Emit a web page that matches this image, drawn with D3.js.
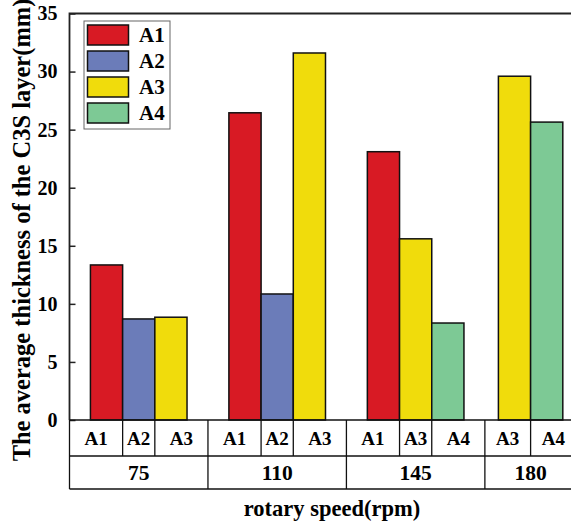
<!DOCTYPE html>
<html>
<head>
<meta charset="utf-8">
<script src="https://cdn.jsdelivr.net/npm/d3@7"></script>
<style>
  html, body { margin: 0; padding: 0; background: #fff; overflow: hidden; }
  text { font-family: "Liberation Serif", "Times New Roman", serif; font-weight: bold; fill: #000; }
</style>
</head>
<body>
<div id="vis"></div>
<script>
// 数据
const speeds = ["75", "110", "145", "180"];
const seriesNames = ["A1", "A2", "A3", "A4"];
const groupSeries = [
  ["A1", "A2", "A3"],
  ["A1", "A2", "A3"],
  ["A1", "A3", "A4"],
  ["A3", "A4"]
];
const groupValues = [
  [13.35, 8.7, 8.85],
  [26.45, 10.85, 31.6],
  [23.1, 15.6, 8.35],
  [29.6, 25.65]
];
const yTicks = [0, 5, 10, 15, 20, 25, 30, 35];
const colors = { A1: "#d81a24", A2: "#6b7cb9", A3: "#f0dc0c", A4: "#7dc995" };

// 布局
const W = 571, H = 522;
const plotLeft = 69.5, plotTop = 13.5, plotBottom = 420;
const row1 = 456, row2 = 489;
const slot = 32.2;
const pads = [[0.65, 0.65], [0.65, 0.65], [0.65, 0.65], [0.42, 0.42]];

// 计算每组在“槽位”坐标中的起止位置
let pos = 0;
const groups = speeds.map((s, i) => {
  const start = pos;
  const barStart = start + pads[i][0];
  const n = groupSeries[i].length;
  const end = barStart + n + pads[i][1];
  pos = end;
  return {
    speed: s, start, end, barStart,
    bars: groupSeries[i].map((name, j) => ({ name, value: groupValues[i][j], x0: barStart + j }))
  };
});
const total = pos;

const x = d3.scaleLinear().domain([0, total]).range([plotLeft, plotLeft + total * slot]);
const y = d3.scaleLinear().domain([0, 35]).range([plotBottom, plotTop]);

const svg = d3.select("#vis").append("svg")
  .attr("width", W).attr("height", H);

// 条形
const allBars = groups.flatMap(g => g.bars);
svg.selectAll(".bar")
  .data(allBars)
  .enter().append("rect")
  .attr("class", "bar")
  .attr("x", d => x(d.x0))
  .attr("width", x(1) - x(0))
  .attr("y", d => y(d.value))
  .attr("height", d => y(0) - y(d.value))
  .attr("fill", d => colors[d.name])
  .attr("stroke", "#111")
  .attr("stroke-width", 1.5);

// y 轴（刻度朝内）
const yAxis = svg.append("g")
  .attr("transform", `translate(${plotLeft},0)`)
  .call(d3.axisLeft(y).tickValues(yTicks).tickSize(-6).tickPadding(12));
yAxis.select(".domain").remove();
yAxis.selectAll("line").attr("stroke", "#222").attr("stroke-width", 1.5);
yAxis.selectAll("text").attr("font-size", 20).attr("font-family", "Liberation Serif").attr("font-weight", "bold").attr("fill", "#000");

// 外框
const xEnd = x(total) + 5;
svg.append("path")
  .attr("d", `M${plotLeft},${plotBottom}V${plotTop}H${xEnd}`)
  .attr("fill", "none").attr("stroke", "#222").attr("stroke-width", 1.8);
svg.append("line")
  .attr("x1", plotLeft).attr("x2", xEnd)
  .attr("y1", plotBottom).attr("y2", plotBottom)
  .attr("stroke", "#111").attr("stroke-width", 1.5);

// 表格形式的 x 轴
const tbl = svg.append("g").attr("stroke", "#111").attr("stroke-width", 1.3);
tbl.append("line").attr("x1", plotLeft).attr("x2", xEnd).attr("y1", row1).attr("y2", row1);
tbl.append("line").attr("x1", plotLeft).attr("x2", xEnd).attr("y1", row2).attr("y2", row2);
groups.forEach(g => {
  tbl.append("line").attr("x1", x(g.start)).attr("x2", x(g.start)).attr("y1", plotBottom).attr("y2", row2);
  g.bars.slice(1).forEach(b => {
    tbl.append("line").attr("x1", x(b.x0)).attr("x2", x(b.x0)).attr("y1", plotBottom).attr("y2", row1);
  });
});
tbl.append("line").attr("x1", x(total)).attr("x2", x(total)).attr("y1", plotBottom).attr("y2", row2);

// 单元格文字
groups.forEach(g => {
  g.bars.forEach((b, j) => {
    const a = j === 0 ? g.start : b.x0;
    const e = j === g.bars.length - 1 ? g.end : b.x0 + 1;
    svg.append("text")
      .attr("x", (x(a) + x(e)) / 2)
      .attr("y", (plotBottom + row1) / 2 + 6.5)
      .attr("text-anchor", "middle")
      .attr("font-size", 19)
      .text(b.name);
  });
  svg.append("text")
    .attr("x", (x(g.start) + x(g.end)) / 2)
    .attr("y", (row1 + row2) / 2 + 7)
    .attr("text-anchor", "middle")
    .attr("font-size", 21.5)
    .text(g.speed);
});

// 轴标题
svg.append("text")
  .attr("x", 332).attr("y", 516)
  .attr("text-anchor", "middle")
  .attr("font-size", 22.5)
  .text("rotary speed(rpm)");
svg.append("text")
  .attr("transform", "translate(30,230) rotate(-90)")
  .attr("text-anchor", "middle")
  .attr("font-size", 24.5)
  .text("The average thickness of the C3S layer(mm)");

// 图例
const lg = svg.append("g");
lg.append("rect")
  .attr("x", 84).attr("y", 21).attr("width", 86).attr("height", 108)
  .attr("fill", "#fff").attr("stroke", "#666").attr("stroke-width", 1);
seriesNames.forEach((n, i) => {
  lg.append("rect")
    .attr("x", 87.5).attr("y", 25 + i * 26).attr("width", 41).attr("height", 20)
    .attr("fill", colors[n]).attr("stroke", "#111").attr("stroke-width", 1.5);
  lg.append("text")
    .attr("x", 139).attr("y", 42 + i * 26)
    .attr("font-size", 21)
    .text(n);
});
</script>
</body>
</html>
